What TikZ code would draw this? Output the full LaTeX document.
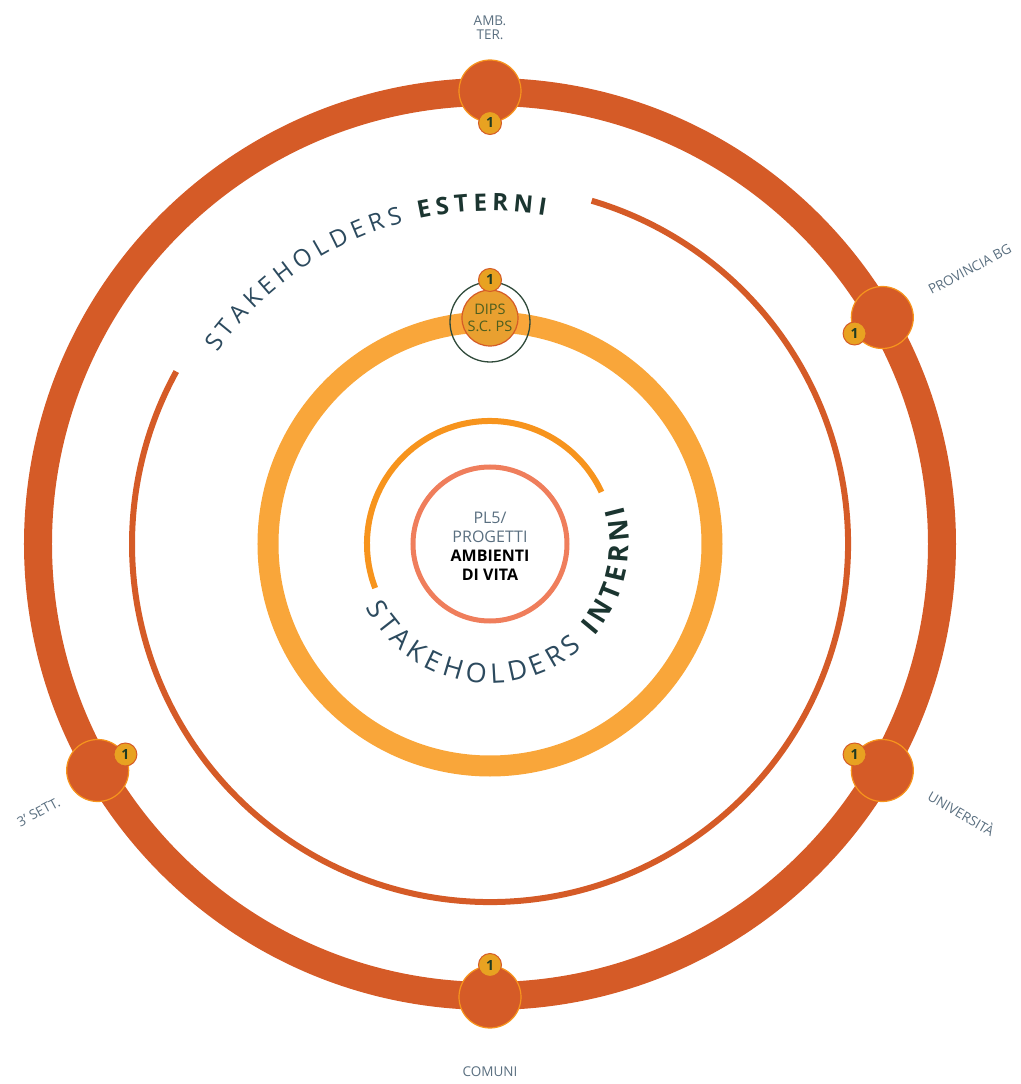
\documentclass[tikz,border=0pt]{standalone}
\usepackage{fontspec}
\setmainfont{Open Sans}
\usetikzlibrary{decorations.text}

\definecolor{ringred}{HTML}{D55B27}
\definecolor{ringorange}{HTML}{F9A63A}
\definecolor{arcorange}{HTML}{F7941D}
\definecolor{coresalmon}{HTML}{EF7E5C}
\definecolor{badgegold}{HTML}{E8A221}
\definecolor{badgetext}{HTML}{1F3B22}
\definecolor{labelgrey}{HTML}{5A6F80}
\definecolor{skblue}{HTML}{2C4A5E}
\definecolor{skdark}{HTML}{1B3530}
\definecolor{dipsfill}{HTML}{E9A030}
\definecolor{dipstext}{HTML}{4D5E1E}
\definecolor{dipsline}{HTML}{2F4A3A}
\newcommand\outerfont{\fontsize{24}{28}\selectfont}
\newcommand\innerfont{\fontsize{27}{30}\selectfont}

\begin{document}
\begin{tikzpicture}[x=1pt, y=1pt,
  stake/.style={circle, fill=ringred, draw=arcorange, line width=1.2pt, minimum size=62pt, inner sep=0pt},
  badge/.style={circle, fill=badgegold, draw=ringred, line width=1pt, minimum size=23pt, inner sep=0pt,
    font=\fontsize{14}{14}\selectfont\bfseries, text=badgetext},
  lbl/.style={font=\fontsize{13.5}{14}\selectfont, text=labelgrey, align=center, inner sep=0pt}]
\useasboundingbox (-490,-540) rectangle (530,544);
% rings
\draw[ringred, line width=28pt] (0,0) circle[radius=452pt];
\draw[ringred, line width=6pt] (73.5:358) arc[start angle=73.5, end angle=-208.8, radius=358pt];
\draw[ringorange, line width=21pt] (0,0) circle[radius=222pt];
\draw[arcorange, line width=6pt] (25:123) arc[start angle=25, end angle=201, radius=123pt];
\draw[coresalmon, line width=5pt] (0,0) circle[radius=77pt];
% curved titles
\path[decorate, decoration={text along path, text align=fit to path,
  text={|\outerfont\color{skblue}|STAKEHOLDERS |\outerfont\bfseries\color{skdark}|ESTERNI}}]
  (145:333) arc[start angle=145, end angle=80.5, radius=333pt];
\path[decorate, decoration={text along path, text align=fit to path,
  text={|\innerfont\color{skblue}|STAKEHOLDERS |\innerfont\bfseries\color{skdark}|INTERNI}}]
  (207:139) arc[start angle=207, end angle=376, radius=139pt];
% centre
\node[align=center, inner sep=0pt, font=\fontsize{16}{19}\selectfont] (core) at (0,-2)
  {\color{labelgrey}PL5/\\
   \color{labelgrey}PROGETTI\\
   \bfseries\color{black}AMBIENTI\\
   \bfseries\color{black}DI VITA};
% internal stakeholder
\node[circle, draw=dipsline, line width=1.3pt, minimum size=80pt, inner sep=0pt] (dipsring) at (90:222) {};
\node[circle, fill=dipsfill, draw=ringred, line width=1.2pt, minimum size=56pt, inner sep=0pt,
  align=center, text=dipstext, font=\fontsize{14.5}{17}\selectfont] (dips) at (90:226) {DIPS\\S.C. PS};
\node[badge] (dipsone) at (90:264) {1};
% external stakeholders
\node[stake] (amb) at (90:453) {};
\node[badge] (ambone) at (90:421) {1};
\node[lbl] (ambtxt) at (90:516) {AMB.\\TER.};

\node[stake] (prov) at (30:453) {};
\node[badge] (provone) at (30:421) {1};
\node[lbl, rotate=28] (provtxt) at (29.8:553) {PROVINCIA BG};

\node[stake] (univ) at (-30:453) {};
\node[badge] (univone) at (-30:421) {1};
\node[lbl, rotate=-30] (univtxt) at (-29.7:543) {UNIVERSITÀ};

\node[stake] (comuni) at (-90:453) {};
\node[badge] (comunione) at (-90:421) {1};
\node[lbl] (comunitxt) at (-90:528) {COMUNI};

\node[stake] (sett) at (210:453) {};
\node[badge] (settone) at (210:421) {1};
\node[lbl, rotate=28] (setttxt) at (210.7:525) {3' SETT.};
\end{tikzpicture}
\end{document}
